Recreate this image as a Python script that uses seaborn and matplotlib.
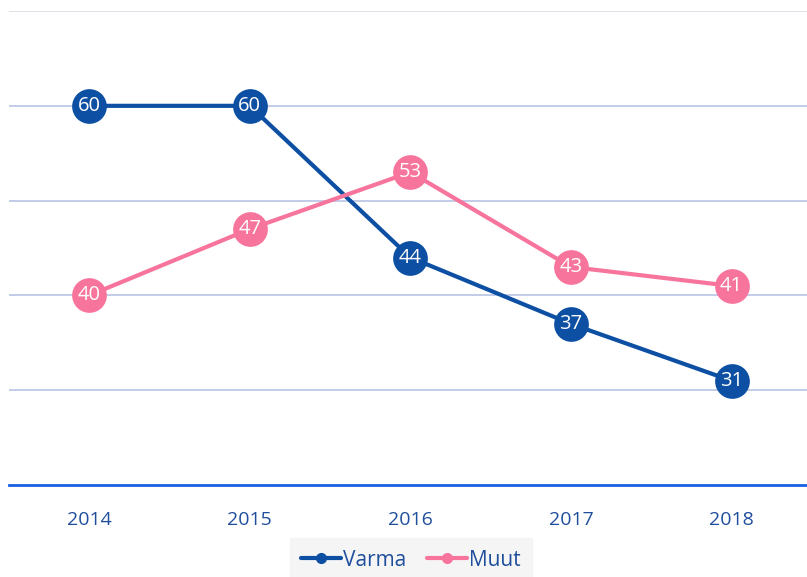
import pandas as pd
import matplotlib.pyplot as plt
import seaborn as sns
from matplotlib.lines import Line2D

# --- DATI ---
years = ["2014", "2015", "2016", "2017", "2018"]
varma = [60, 60, 44, 37, 31]
muut = [40, 47, 53, 43, 41]
series_names = ["Varma", "Muut"]
colors = {"Varma": "#0D4FA3", "Muut": "#F7759C"}

df = pd.DataFrame({
    "pos": list(range(len(years))) * 2,
    "value": varma + muut,
    "series": ["Varma"] * len(years) + ["Muut"] * len(years),
})

sns.set_style("white")
plt.rcParams["font.family"] = ["Open Sans", "DejaVu Sans"]

fig = plt.figure(figsize=(8.07, 5.77), dpi=100)
ax = fig.add_axes([0.011, 0.1594, 0.989, 0.8215])

sns.lineplot(data=df, x="pos", y="value", hue="series", palette=colors,
             marker="o", markersize=25, markeredgewidth=0, linewidth=3,
             legend=False, ax=ax, zorder=3)

# etichette dentro i cerchi
for name, vals in [("Varma", varma), ("Muut", muut)]:
    for i, v in enumerate(vals):
        ax.text(i, v, str(v), ha="center", va="center", color="white",
                fontsize=14.5, zorder=4)

ax.set_xlim(-0.5, 4.47)
ax.set_ylim(20, 70)
ax.set_yticks([20, 30, 40, 50, 60, 70])
ax.set_yticklabels([])
ax.tick_params(axis="y", length=0)
ax.set_xticks(range(len(years)))
ax.set_xticklabels(years, color="#1F4E9C", fontsize=14)
ax.tick_params(axis="x", length=0, pad=19)
ax.set_xlabel("")
ax.set_ylabel("")

ax.yaxis.grid(True, color="#B7C4E4", linewidth=1.2)
ax.get_ygridlines()[-1].set_color("#D8DCE3")
ax.get_ygridlines()[0].set_visible(False)

for s in ["top", "left", "right"]:
    ax.spines[s].set_visible(False)
ax.spines["bottom"].set_color("#1A5FE0")
ax.spines["bottom"].set_linewidth(2)

handles = [Line2D([0], [0], color=colors[n], linewidth=3, marker="o", markersize=7)
           for n in series_names]
leg = fig.legend(handles, series_names, loc="center", bbox_to_anchor=(411 / 807, 1 - 560 / 577),
                 ncol=2, frameon=True, fontsize=15, handlelength=1.9, handletextpad=0.1,
                 columnspacing=1.0, borderpad=0.55)
for t in leg.get_texts():
    t.set_color("#1F4E9C")
leg.get_frame().set_facecolor("#F3F3F3")
leg.get_frame().set_edgecolor("#F3F3F3")
leg.get_frame().set_boxstyle("square", pad=0)

fig.savefig("out.png", dpi=100)
